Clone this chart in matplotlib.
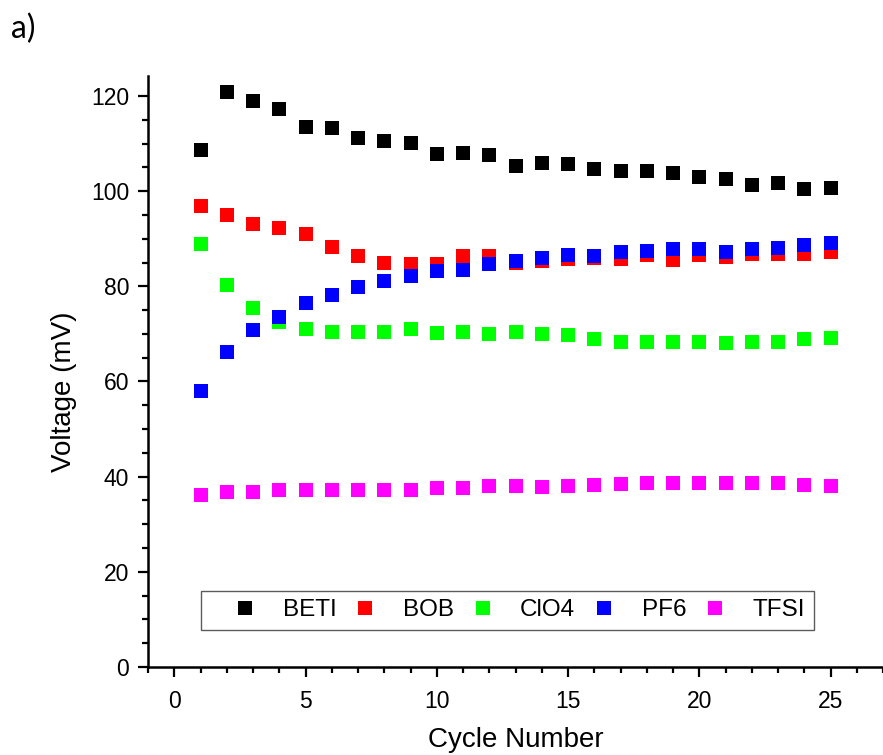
import numpy as np
import matplotlib
matplotlib.use("Agg")
import matplotlib.pyplot as plt
from matplotlib.ticker import MultipleLocator

# Cycle data
cycles = np.arange(1, 26)
beti = [108.6, 120.8, 118.9, 117.3, 113.4, 113.3, 111.2, 110.6, 110.1, 107.8,
        108.0, 107.5, 105.3, 105.9, 105.8, 104.7, 104.2, 104.2, 103.8, 102.9,
        102.5, 101.3, 101.7, 100.4, 100.6]
bob = [96.9, 95.0, 93.1, 92.2, 90.9, 88.2, 86.4, 85.0, 84.6, 84.6,
       86.4, 86.4, 85.0, 85.3, 85.8, 85.9, 85.8, 86.5, 85.5, 86.5,
       86.1, 86.7, 86.7, 86.7, 87.3]
clo4 = [88.9, 80.2, 75.4, 72.4, 71.0, 70.3, 70.5, 70.5, 71.0, 70.2,
        70.3, 69.9, 70.5, 69.9, 69.7, 69.0, 68.4, 68.4, 68.4, 68.4,
        68.1, 68.4, 68.4, 68.9, 69.1]
pf6 = [58.1, 66.3, 70.8, 73.6, 76.6, 78.2, 79.9, 81.1, 82.2, 83.2,
       83.4, 84.7, 85.4, 86.0, 86.6, 86.4, 87.2, 87.5, 87.8, 87.8,
       87.2, 87.8, 88.1, 88.7, 89.0]
tfsi = [36.1, 36.8, 36.8, 37.1, 37.1, 37.1, 37.3, 37.1, 37.1, 37.7,
        37.7, 38.0, 38.0, 37.8, 38.0, 38.3, 38.5, 38.6, 38.6, 38.7,
        38.6, 38.7, 38.6, 38.3, 38.0]

series = [("BETI", beti, "#000000"),
          ("BOB", bob, "#ff0000"),
          ("ClO4", clo4, "#00ff00"),
          ("PF6", pf6, "#0000ff"),
          ("TFSI", tfsi, "#ff00ff")]

plt.rcParams['font.family'] = ['Liberation Sans', 'DejaVu Sans']

fig = plt.figure(figsize=(8.83, 7.55), dpi=100)
ax = fig.add_axes([148 / 883, 1 - 667 / 755, 735 / 883, (667 - 76) / 755])

for name, vals, color in series:
    ax.plot(cycles, vals, 's', color=color, markersize=9.8,
            markeredgewidth=0, label=name)

ax.set_xlim(-1, 27)
ax.set_ylim(0, 124.2)
ax.xaxis.set_major_locator(MultipleLocator(5))
ax.xaxis.set_minor_locator(MultipleLocator(1))
ax.yaxis.set_major_locator(MultipleLocator(20))
ax.yaxis.set_minor_locator(MultipleLocator(5))

for side in ['top', 'right']:
    ax.spines[side].set_visible(False)
for side in ['left', 'bottom']:
    ax.spines[side].set_linewidth(1.8)

ax.tick_params(which='major', length=7.5, width=1.6, labelsize=16.5, pad=6)
ax.tick_params(which='minor', length=4.3, width=1.6)
ax.tick_params(axis='x', which='major', pad=9)

ax.set_xlabel('Cycle Number', fontsize=20)
ax.set_ylabel('Voltage (mV)', fontsize=20)
ax.xaxis.set_label_coords(0.5, -0.101)
ax.yaxis.set_label_coords(-0.096, 0.465)

leg = ax.legend(loc='center', bbox_to_anchor=(0.489, 0.0964), ncol=5,
                fontsize=17.5, frameon=True, fancybox=False,
                borderpad=0.35, handlelength=2.9, handletextpad=0.1,
                columnspacing=-0.27, borderaxespad=0)
leg.get_frame().set_edgecolor('#333333')
leg.get_frame().set_linewidth(1.0)

fig.text(11 / 883, 1 - 29 / 755, 'a)', fontsize=23, family='Lato',
         ha='left', va='center')

fig.savefig('out.png', dpi=100)
